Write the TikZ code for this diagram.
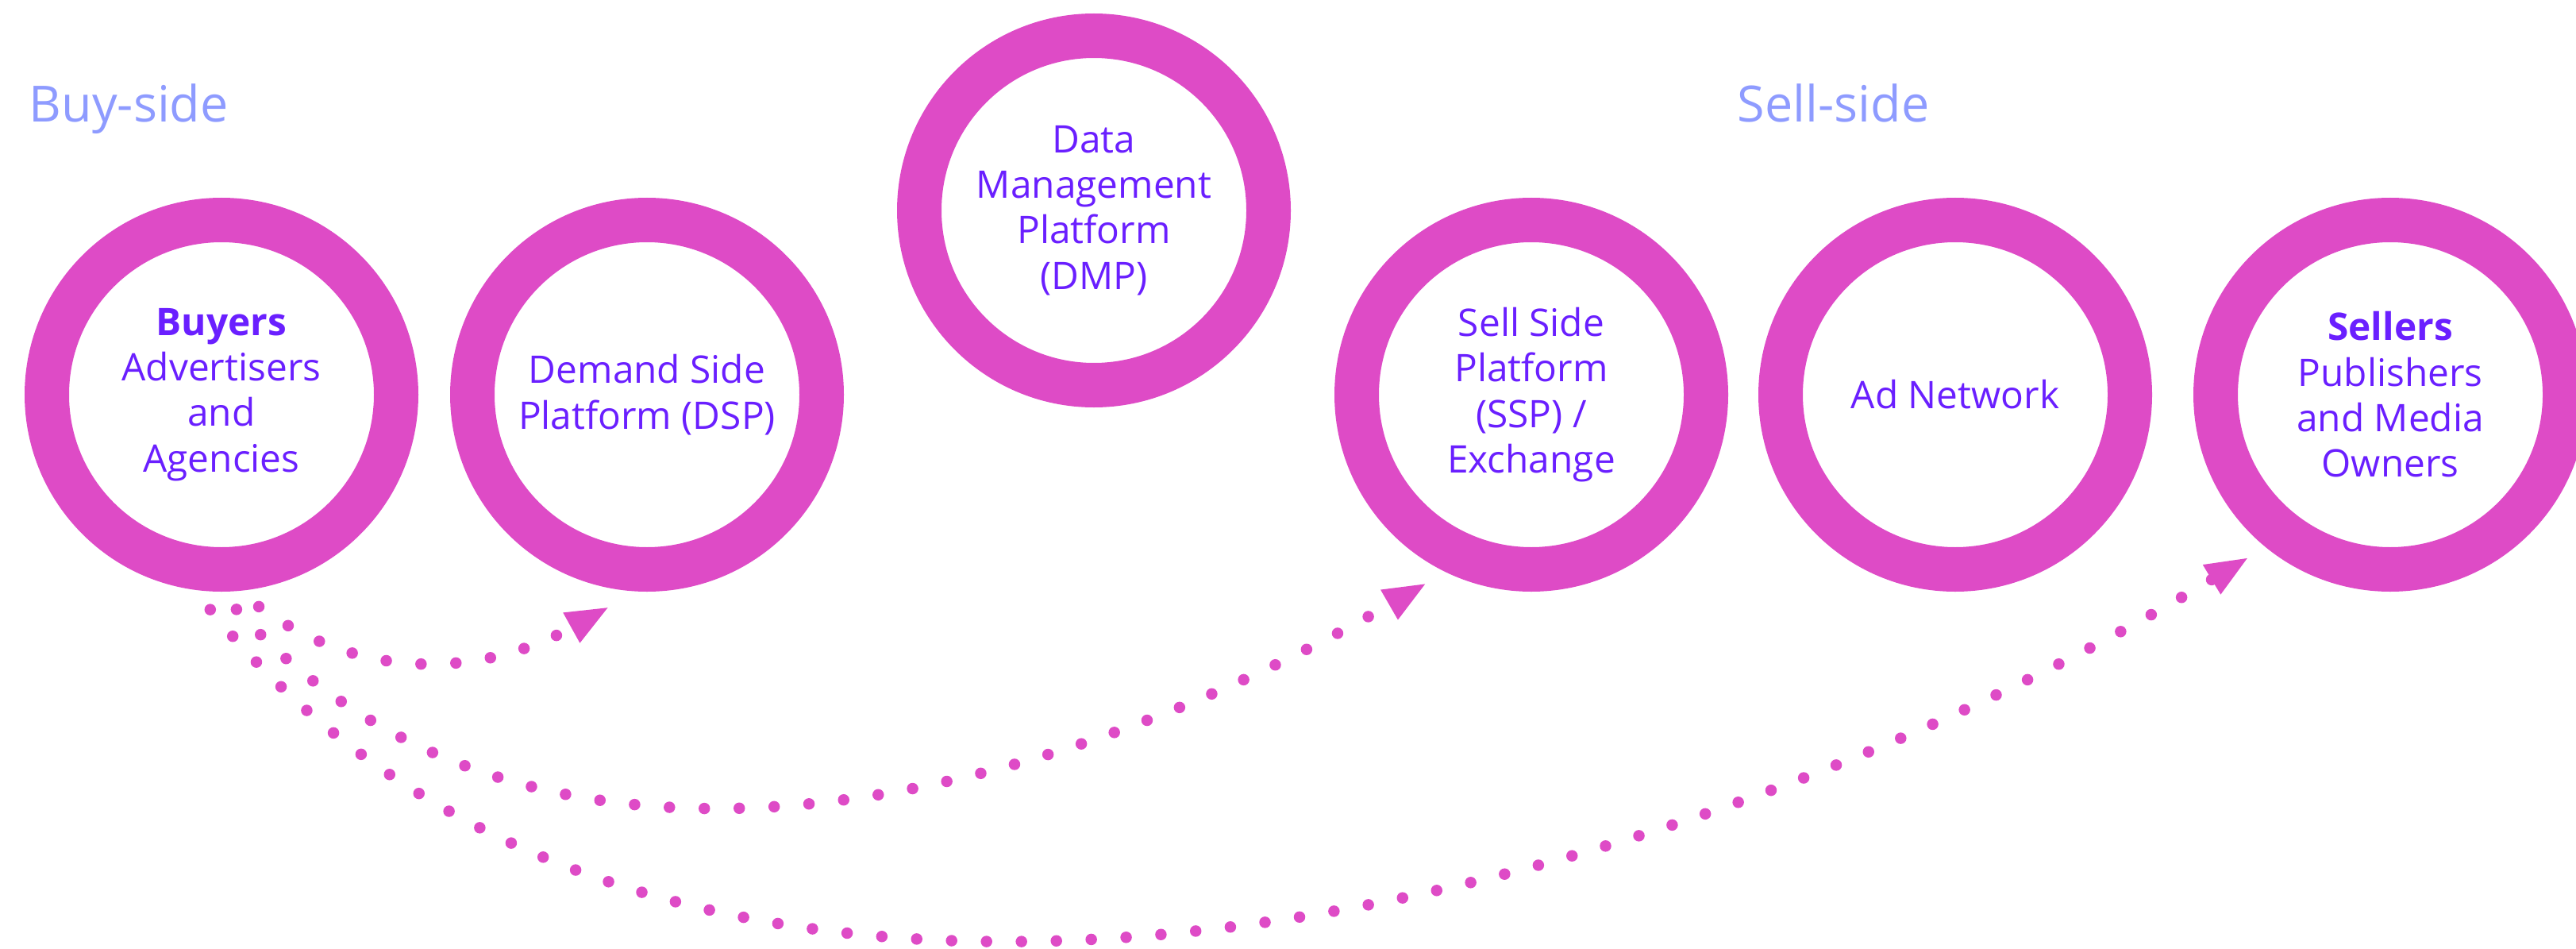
\documentclass[tikz,border=0pt]{standalone}
\usepackage{fontspec}
\setmainfont{Open Sans}
\usetikzlibrary{arrows.meta}
\definecolor{ringpink}{RGB}{222,75,198}
\definecolor{labelviolet}{RGB}{106,31,255}
\definecolor{sideblue}{RGB}{142,155,255}
\tikzset{
  ring/.style={circle, draw=ringpink, line width=5.6mm, minimum size=44mm,
    inner sep=0pt, outer sep=5.1mm, text=labelviolet, align=center,
    font=\fontsize{13.6}{16.3}\selectfont},
  side/.style={anchor=base west, inner sep=0pt, text=sideblue,
    font=\fontsize{17.9}{21}\selectfont},
  flow/.style={ringpink, line width=1.45mm, line cap=round,
    dash pattern=on 0pt off 4.4mm, -{Triangle[length=5.5mm,width=3.9mm]}},
}
\begin{document}
\begin{tikzpicture}
    \useasboundingbox (0,0) rectangle (32.45,11.94);
    \node[side] (buyside) at (0.36,10.41) {Buy-side};
    \node[side] (sellside) at (21.88,10.41) {Sell-side};
    \node[ring] (buyers) at (2.79,6.97) {\textbf{Buyers}\\Advertisers\\and\\Agencies};
    \node[ring] (dsp) at (8.15,6.97) {Demand Side\\Platform (DSP)};
    \node[ring] (dmp) at (13.78,9.29) {Data\\Management\\Platform\\(DMP)};
    \node[ring] (ssp) at (19.29,6.97) {Sell Side\\Platform\\(SSP) /\\Exchange};
    \node[ring] (adnet) at (24.63,6.97) {Ad Network};
    \node[ring] (sellers) at (30.11,6.97) {\textbf{Sellers}\\Publishers\\and Media\\Owners};
    \draw[flow] (buyers.-80) to[out=-36, in=-151] (dsp.-100);
    \draw[flow] (buyers.-86) to[out=-48, in=-150, looseness=0.95] (ssp.-119);
    \draw[flow] (buyers.-93) to[out=-51, in=-149, looseness=0.9] (sellers.-131);
\end{tikzpicture}
\end{document}
